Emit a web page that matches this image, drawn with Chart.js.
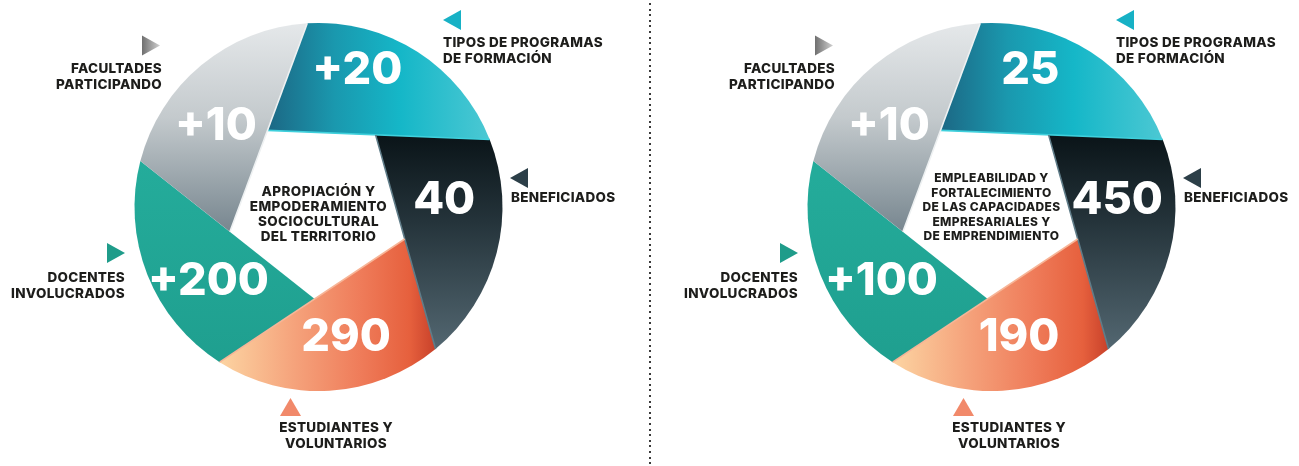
<!DOCTYPE html>
<html>
<head>
<meta charset="utf-8">
<script src="https://cdn.jsdelivr.net/npm/chart.js@4.4.1/dist/chart.umd.min.js"></script>
<style>
    html, body { margin: 0; padding: 0; background: #fff; overflow: hidden; }
    body { width: 1299px; height: 466px; position: relative; }
    canvas { position: absolute; top: 0; }
    #Apropiacion { left: 0; }
    #Empleabilidad { left: 673px; }
    #divider {
        position: absolute; left: 649px; top: 3px; width: 2px; height: 463px;
        background: repeating-linear-gradient(to bottom, #3a3a3a 0 2px, transparent 2px 5.6px);
    }
</style>
</head>
<body>
<canvas id="Apropiacion" width="637" height="466"></canvas>
<div id="divider"></div>
<canvas id="Empleabilidad" width="626" height="466"></canvas>
<script>
// categories, same for both wheels
const categories = [
    ["TIPOS DE PROGRAMAS", "DE FORMACIÓN"],
    ["BENEFICIADOS"],
    ["ESTUDIANTES Y", "VOLUNTARIOS"],
    ["DOCENTES", "INVOLUCRADOS"],
    ["FACULTADES", "PARTICIPANDO"],
];
// every slice of the wheel is the same size
const sliceShares = [1, 1, 1, 1, 1];

const apropiacionValues = [20, 40, 290, 200, 10];
const apropiacionPlus = [true, false, false, true, true];
const apropiacionTitle = ["APROPIACIÓN Y", "EMPODERAMIENTO", "SOCIOCULTURAL", "DEL TERRITORIO"];

const empleabilidadValues = [25, 450, 190, 100, 10];
const empleabilidadPlus = [false, false, false, true, true];
const empleabilidadTitle = ["EMPLEABILIDAD Y", "FORTALECIMIENTO", "DE LAS CAPACIDADES", "EMPRESARIALES Y", "DE EMPRENDIMIENTO"];

const FONT = "Inter, 'Open Sans', sans-serif";

const segmentStyles = [
    { dir: "x", stops: [[0, "#1c6784"], [0.3, "#1a98ae"], [0.6, "#15b7c8"], [1, "#4cc8d3"]], edge: "#3fd0dc", tri: "#17b1c5" },
    { dir: "y", stops: [[0, "#0a1418"], [0.4, "#24333a"], [1, "#536771"]], edge: "#5f7c88", tri: "#2c3f48" },
    { dir: "x", stops: [[0, "#fcd4a2"], [0.35, "#f5a27b"], [0.65, "#ef7c5a"], [0.88, "#e6603d"], [1, "#c8412a"]], edge: "#f7b597", tri: "#f1896a" },
    { dir: "y", stops: [[0, "#24ac9b"], [1, "#1f9f8f"]], edge: null, tri: "#1f9c8a" },
    { dir: "y", stops: [[0, "#e5e8ea"], [0.45, "#c4cacd"], [1, "#77868f"]], edge: "#eef1f2", tri: "grey" },
];

// where the outside captions and the big numbers sit, relative to the wheel centre
// num: angular shift (share of the slice) and radius (share of outer radius)
const labelPlacement = [
    { tri: "left", tx: 124.5, ty: -187, x: 124.5, y: -165, align: "left", numShift: -0.235, numRad: 0.785 },
    { tri: "left", tx: 191.5, ty: -29, x: 192.5, y: -10, align: "left", numShift: -0.26, numRad: 0.685 },
    { tri: "up", tx: -28, ty: 191, x: 17.5, y: 220, align: "center", numShift: -0.12, numRad: 0.712 },
    { tri: "right", tx: -193.5, ty: 46, x: -193.5, y: 70, align: "right", numShift: -0.163, numRad: 0.715 },
    { tri: "right", tx: -158.5, ty: -161.5, x: -156.5, y: -139, align: "right", numShift: -0.16, numRad: 0.717 },
];

const aperturePlugin = {
    id: "aperture",
    beforeDatasetDraw(chart, args, opts) {
        const ctx = chart.ctx;
        const ds = chart.data.datasets[args.index];
        const arcs = args.meta.data;
        const n = arcs.length;
        const pts = arcs.map(a => a.getProps(["x", "y", "startAngle", "endAngle", "outerRadius", "innerRadius"], true));
        const cx = pts[0].x, cy = pts[0].y, R = pts[0].outerRadius, r = pts[0].innerRadius;
        const half = Math.PI / n;
        const delta = Math.acos(r * Math.cos(half) / R) - half;
        const at = (ang, rad) => [cx + rad * Math.cos(ang), cy + rad * Math.sin(ang)];

        const shapes = pts.map(p => ({
            p0: at(p.startAngle - delta, r),
            q0: at(p.startAngle, R),
            q1: at(p.endAngle, R),
            s: p.startAngle,
            e: p.endAngle,
        }));

        ctx.save();
        // fills
        shapes.forEach((sh, i) => {
            const st = segmentStyles[i];
            const xs = [sh.p0[0], sh.q0[0], sh.q1[0]];
            const ys = [sh.p0[1], sh.q0[1], sh.q1[1]];
            for (let t = 0; t <= 20; t++) {
                const a = sh.s + (sh.e - sh.s) * t / 20;
                xs.push(cx + R * Math.cos(a));
                ys.push(cy + R * Math.sin(a));
            }
            const x0 = Math.min(...xs), x1 = Math.max(...xs);
            const y0 = Math.min(...ys), y1 = Math.max(...ys);
            const grad = st.dir === "x"
                ? ctx.createLinearGradient(x0, 0, x1, 0)
                : ctx.createLinearGradient(0, y0, 0, y1);
            st.stops.forEach(s => grad.addColorStop(s[0], s[1]));

            ctx.beginPath();
            ctx.moveTo(sh.p0[0], sh.p0[1]);
            ctx.lineTo(sh.q0[0], sh.q0[1]);
            ctx.arc(cx, cy, R, sh.s, sh.e);
            ctx.lineTo(sh.p0[0], sh.p0[1]);
            ctx.closePath();
            ctx.fillStyle = grad;
            ctx.fill();
        });

        // light edge along the inner cut of each blade
        shapes.forEach((sh, i) => {
            const st = segmentStyles[i];
            if (!st.edge) return;
            ctx.beginPath();
            ctx.moveTo(sh.q1[0], sh.q1[1]);
            ctx.lineTo(sh.p0[0], sh.p0[1]);
            ctx.strokeStyle = st.edge;
            ctx.lineWidth = 1.6;
            ctx.stroke();
        });

        // big numbers
        ctx.fillStyle = "#ffffff";
        ctx.textAlign = "center";
        ctx.textBaseline = "alphabetic";
        ctx.font = "800 45px " + FONT;
        ctx.letterSpacing = "0px";
        pts.forEach((p, i) => {
            const lp = labelPlacement[i];
            const span = p.endAngle - p.startAngle;
            const ang = (p.startAngle + p.endAngle) / 2 + lp.numShift * span;
            const pos = at(ang, lp.numRad * R);
            const txt = (ds.plus[i] ? "+" : "") + ds.values[i];
            ctx.fillText(txt, pos[0], pos[1] + 16.3);
        });

        // centre title
        ctx.fillStyle = "#1d1d1b";
        ctx.font = "800 " + opts.titleSize + "px " + FONT;
        ctx.letterSpacing = opts.titleSpacing + "px";
        const lines = opts.title;
        lines.forEach((line, i) => {
            const y = cy + 29 - (lines.length - 1 - i) * opts.titleLine;
            ctx.fillText(line, cx, y + opts.titleSize * 0.36);
        });

        // outside captions with pointer triangles
        ctx.font = "800 13.5px " + FONT;
        ctx.letterSpacing = "0.3px";
        chart.data.labels.forEach((lab, i) => {
            const lp = labelPlacement[i];
            const st = segmentStyles[i];
            const tx = cx + lp.tx, ty = cy + lp.ty;
            ctx.beginPath();
            if (lp.tri === "left") {
                ctx.moveTo(tx, ty); ctx.lineTo(tx + 18, ty - 10); ctx.lineTo(tx + 18, ty + 10);
            } else if (lp.tri === "right") {
                ctx.moveTo(tx, ty); ctx.lineTo(tx - 18, ty - 10); ctx.lineTo(tx - 18, ty + 10);
            } else {
                ctx.moveTo(tx, ty); ctx.lineTo(tx + 10.5, ty + 18); ctx.lineTo(tx - 10.5, ty + 18);
            }
            ctx.closePath();
            if (st.tri === "grey") {
                const g = ctx.createLinearGradient(tx - 18, 0, tx, 0);
                g.addColorStop(0, "#6f6f6f");
                g.addColorStop(1, "#d0d0d0");
                ctx.fillStyle = g;
            } else {
                ctx.fillStyle = st.tri;
            }
            ctx.fill();

            ctx.fillStyle = "#1d1d1b";
            ctx.textAlign = lp.align;
            lab.forEach((line, j) => {
                ctx.fillText(line, cx + lp.x, cy + lp.y + j * 16 + 13.5 * 0.36);
            });
        });
        ctx.restore();
        return false;
    },
};

function ApertureChart(id, values, plus, title, titleSize, titleLine, titleSpacing, padLeft) {
    const ctx = document.getElementById(id);

    new Chart(ctx, {
        type: "doughnut",
        data: {
            labels: categories,
            datasets: [
                {
                    data: sliceShares,
                    values: values,
                    plus: plus,
                    backgroundColor: "rgba(0,0,0,0)",
                    borderWidth: 0,
                    hoverBorderWidth: 0,
                    hoverOffset: 0,
                    offset: 0,
                },
            ],
        },
        options: {
            responsive: false,
            animation: false,
            events: [],
            cutout: "50%",
            rotation: -3.5,
            layout: {
                padding: { top: 23, bottom: 75, left: padLeft, right: 0 },
            },
            plugins: {
                legend: { display: false },
                tooltip: { enabled: false },
                aperture: { title: title, titleSize: titleSize, titleLine: titleLine, titleSpacing: titleSpacing },
            },
        },
        plugins: [aperturePlugin],
    });
}

ApertureChart("Apropiacion", apropiacionValues, apropiacionPlus, apropiacionTitle, 13.5, 15, 0.4, 0);
ApertureChart("Empleabilidad", empleabilidadValues, empleabilidadPlus, empleabilidadTitle, 12, 14.5, 0.35, 11);
</script>
</body>
</html>
